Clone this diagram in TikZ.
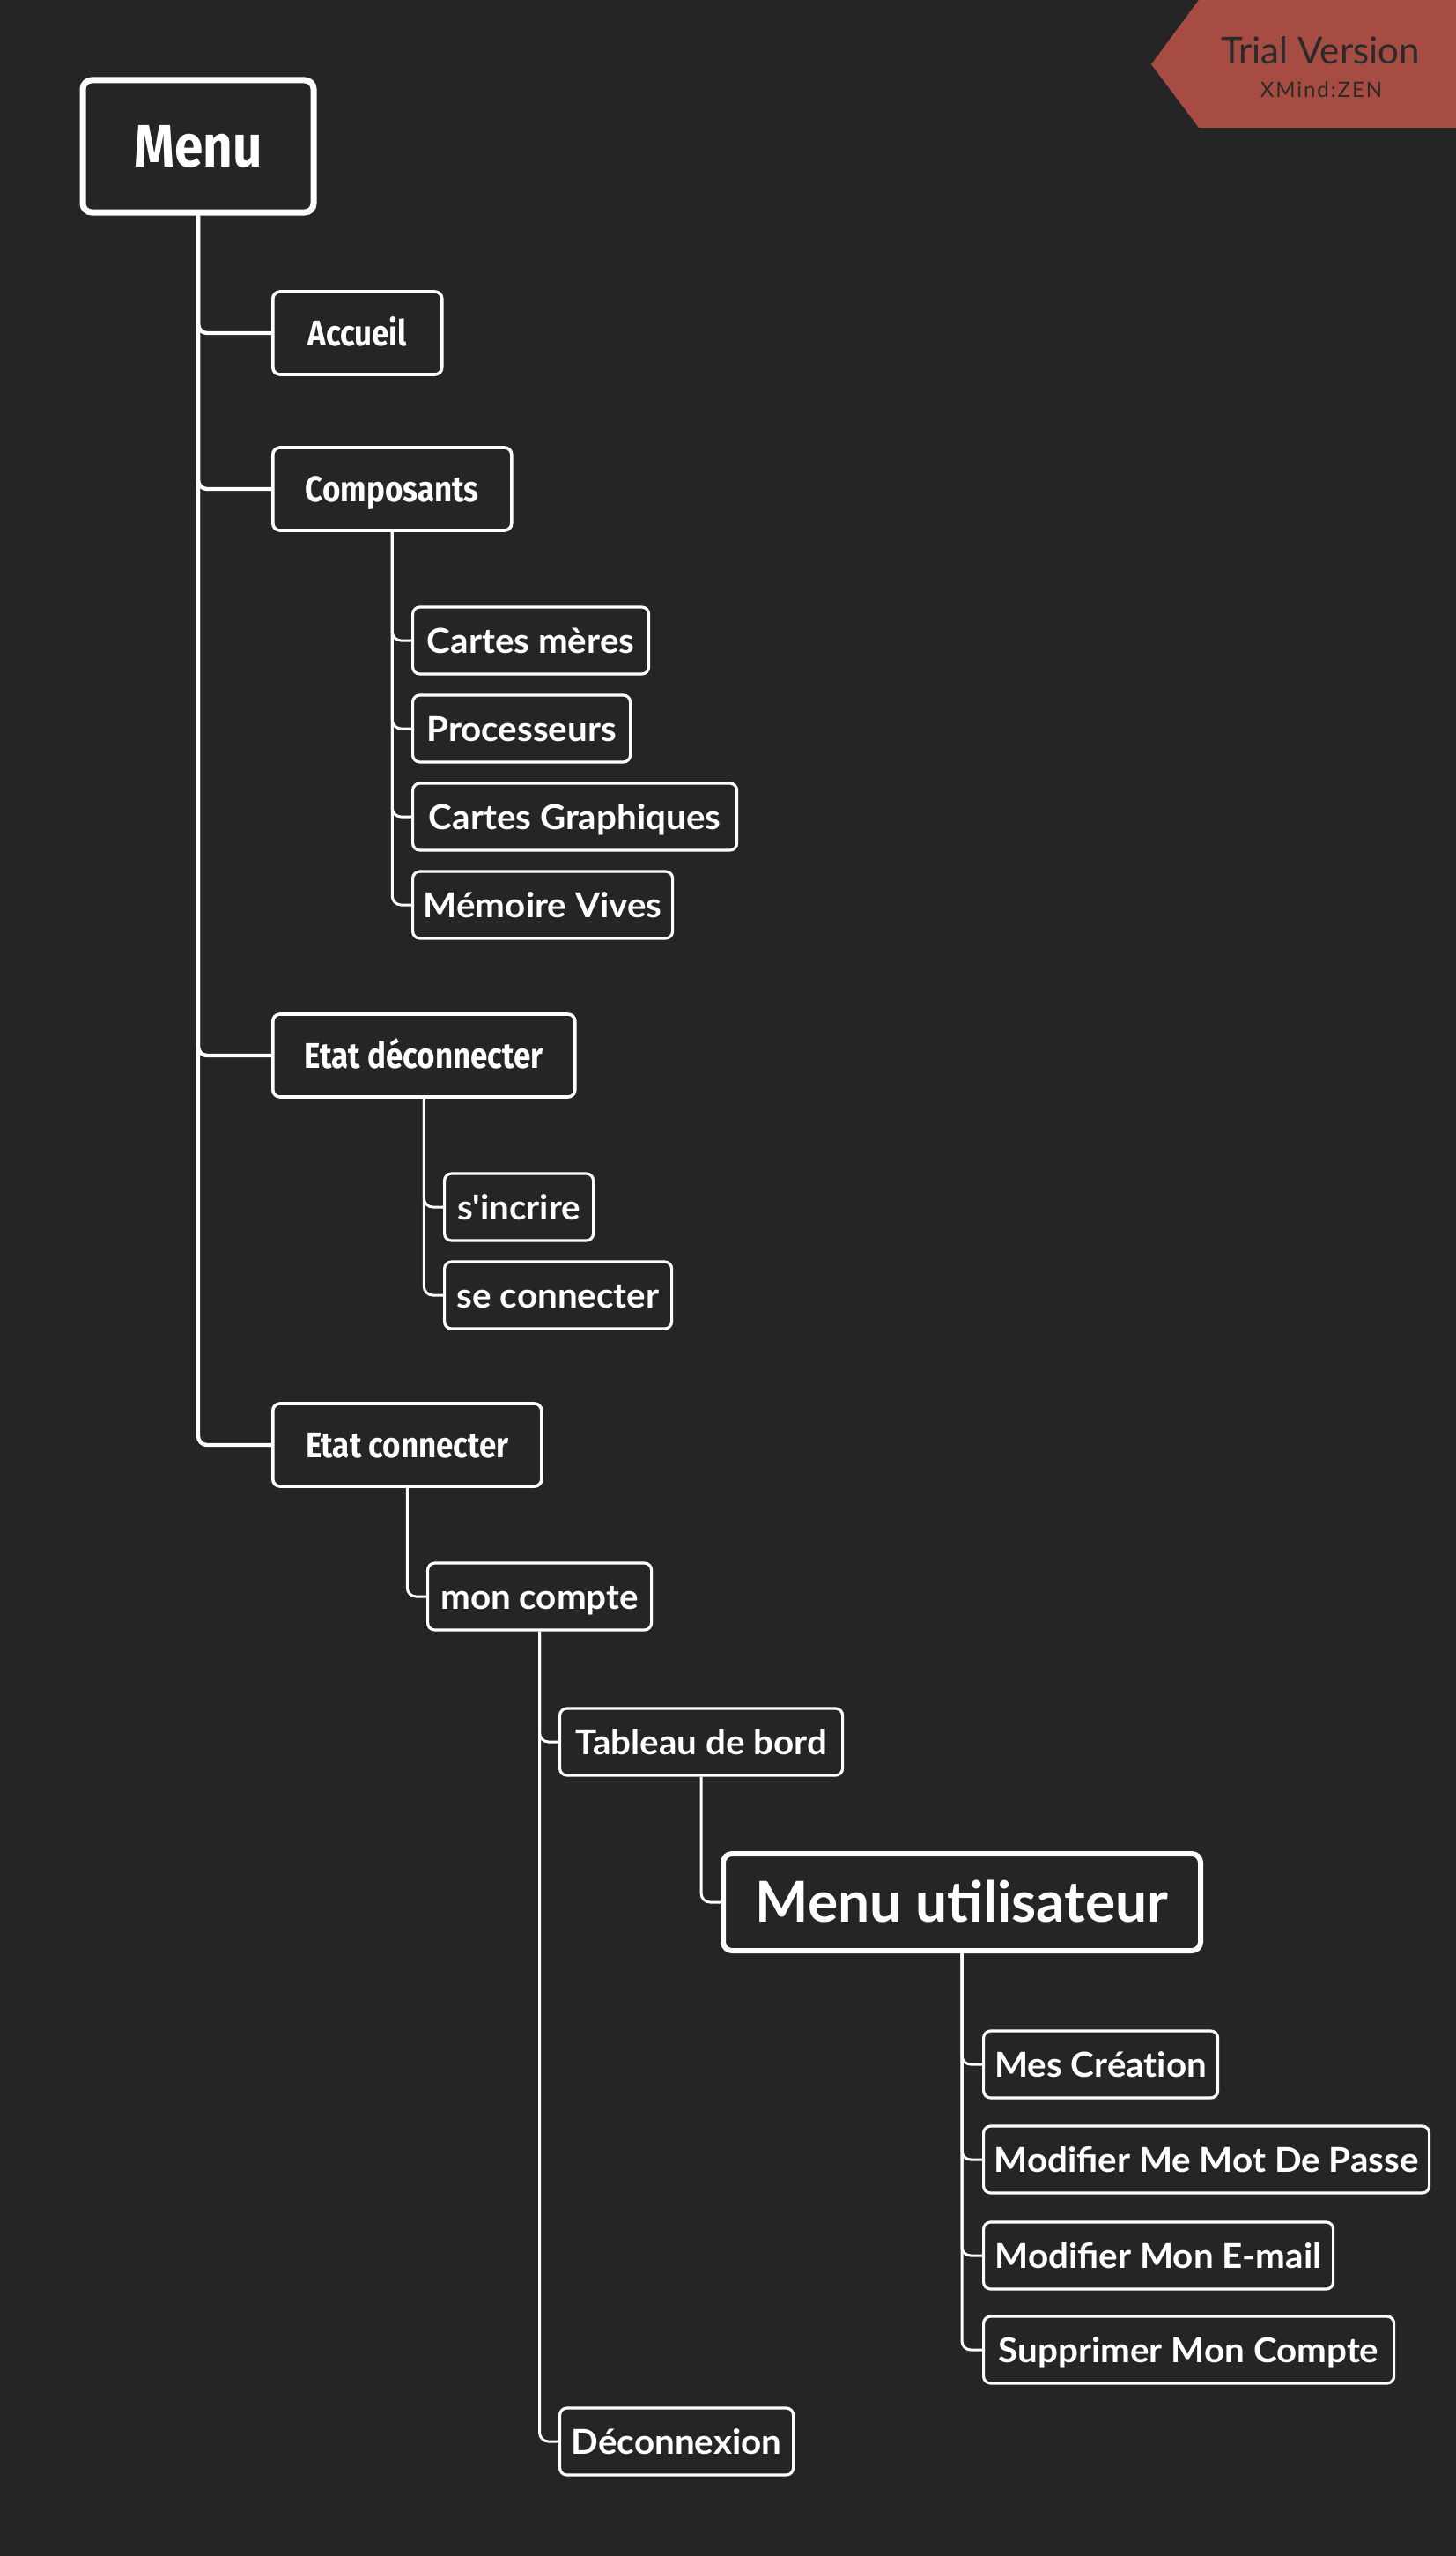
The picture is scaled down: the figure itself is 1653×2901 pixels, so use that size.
\documentclass[tikz,border=0pt]{standalone}
\usepackage{fontspec}
\setmainfont{Lato}
\newfontfamily\condfont[FakeStretch=0.86]{Fira Sans}
\newfontfamily\itemfont[FakeStretch=1.035]{Lato}
\definecolor{mapBg}{HTML}{252525}
\definecolor{trialRed}{HTML}{A64C42}
\definecolor{trialInk}{HTML}{2A2A2A}

\begin{document}
\begin{tikzpicture}[
                x=0.5pt, y=-0.5pt,
                rootbox/.style={draw=white, fill=mapBg, text=white, line width=3.5pt,
                                rounded corners=5pt, inner sep=0pt,
                                font=\condfont\bfseries\fontsize{34}{40}\selectfont,
                                minimum width=131pt, minimum height=75pt,
                                text height=23.5pt, text depth=0pt},
                mainbox/.style={draw=white, fill=mapBg, text=white, line width=1.8pt,
                                rounded corners=4pt, inner xsep=4pt, inner ysep=0pt, anchor=west,
                                font=\condfont\bfseries\fontsize{20.3}{24}\selectfont,
                                minimum height=47pt, text height=14pt, text depth=0pt},
                itembox/.style={draw=white, fill=mapBg, text=white, line width=1.6pt,
                                rounded corners=4pt, inner xsep=3pt, inner ysep=0pt, anchor=west,
                                font=\itemfont\bfseries\fontsize{19.5}{23}\selectfont,
                                minimum height=38pt, text height=14pt, text depth=0pt},
                bigbox/.style={draw=white, fill=mapBg, text=white, line width=3pt,
                               rounded corners=5pt, inner sep=0pt,
                               font=\bfseries\fontsize{32}{38}\selectfont,
                               minimum width=271pt, minimum height=55pt,
                               text height=22.9pt, text depth=0pt},
                branch/.style={draw=white, line width=2.2pt, rounded corners=5pt},
                twig/.style={draw=white, line width=1.5pt, rounded corners=5pt}
            ]
                \fill[mapBg] (0,0) rectangle (1653,2901);
                \fill[trialRed] (1307,73) -- (1361,0) -- (1653,0) -- (1653,145)
                    -- (1361,145) -- cycle;
                \node[anchor=base, text=trialInk, font=\fontsize{21}{24}\selectfont]
                    (trial) at (1499,73) {Trial Version};
                \node[anchor=base, text=trialInk,
                      font=\fontsize{12}{14}\selectfont\addfontfeatures{LetterSpace=8}]
                    (zen) at (1500,111) {XMind:ZEN};

                \node[rootbox] (menu) at (225,166) {Menu};
                \node[mainbox, minimum width=96pt] (accueil) at (308,378) {Accueil};
                \node[mainbox, minimum width=135.5pt] (compo) at (308,555) {Composants};
                \node[itembox, minimum width=134pt] (cmeres) at (467,727) {Cartes mères};
                \node[itembox, minimum width=123.5pt] (proc) at (467,827) {Processeurs};
                \node[itembox, minimum width=184pt] (cgraph) at (467,927) {Cartes Graphiques};
                \node[itembox, minimum width=147.5pt] (ram) at (467,1027) {Mémoire Vives};
                \node[mainbox, minimum width=171.5pt] (offline) at (308,1198) {Etat déconnecter};
                \node[itembox, minimum width=84.5pt] (signup) at (503,1370) {s\textquotesingle incrire};
                \node[itembox, minimum width=129pt] (login) at (503,1470) {se connecter};
                \node[mainbox, minimum width=152.5pt] (online) at (308,1640) {Etat connecter};
                \node[itembox, minimum width=127pt] (account) at (484,1812) {mon compte};
                \node[itembox, minimum width=160.5pt] (board) at (634,1977) {Tableau de bord};
                \node[bigbox] (usermenu) at (1092,2159) {Menu utilisateur};
                \node[itembox, minimum width=133pt] (mine) at (1115,2343) {Mes Créat\kern0pt ion};
                \node[itembox, minimum width=253pt] (passwd) at (1115,2451) {Modifier Me Mot De Passe};
                \node[itembox, minimum width=198.5pt] (email) at (1115,2560) {Modifier Mon E-mail};
                \node[itembox, minimum width=233pt] (delete) at (1115,2667) {Supprimer Mon Compte};
                \node[itembox, minimum width=132.5pt] (logout) at (634,2771) {Déconnexion};

                \draw[branch] (menu.south) |- (accueil.west);
                \draw[branch] (menu.south) |- (compo.west);
                \draw[branch] (menu.south) |- (offline.west);
                \draw[branch] (menu.south) |- (online.west);
                \foreach \leaf in {cmeres, proc, cgraph, ram}
                    \draw[twig] (compo.south) |- (\leaf.west);
                \foreach \leaf in {signup, login}
                    \draw[twig] (offline.south) |- (\leaf.west);
                \draw[twig] (online.south) |- (account.west);
                \draw[twig] (account.south) |- (board.west);
                \draw[twig] (account.south) |- (logout.west);
                \draw[twig] (board.south) |- (usermenu.west);
                \foreach \leaf in {mine, passwd, email, delete}
                    \draw[twig] (usermenu.south) |- (\leaf.west);
            \end{tikzpicture}
\end{document}
